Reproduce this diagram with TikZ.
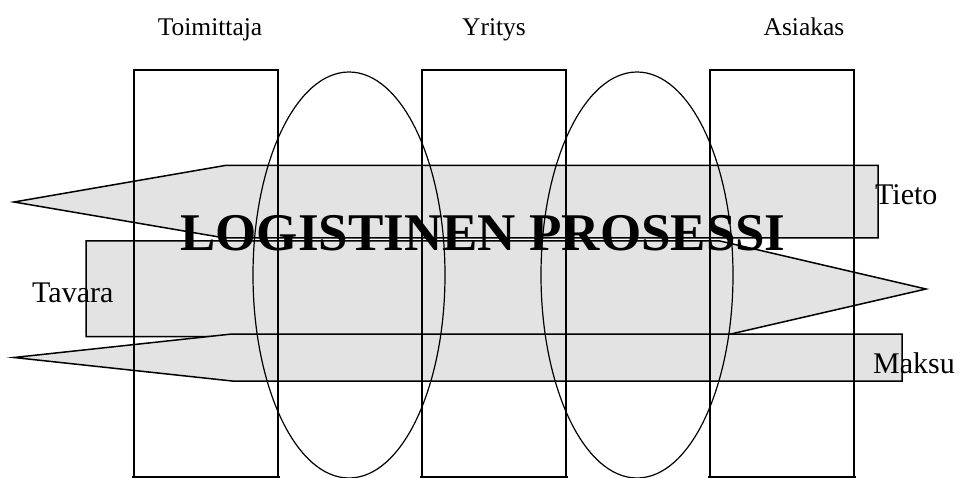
\documentclass[tikz,border=0pt]{standalone}
\usepackage{fontspec}
\setmainfont{Liberation Serif}
\begin{document}
\begin{tikzpicture}[x=1pt,y=-1pt,
  flow/.style={fill=black!11,draw=black,line width=1.5pt,line join=miter},
  lane/.style={draw=black,line width=1.5pt},
  zone/.style={draw=black,line width=1.2pt},
  lbl/.style={inner sep=0pt,font=\fontsize{30}{36}\selectfont},
  head/.style={inner sep=0pt,font=\fontsize{25.5}{30}\selectfont},
  title/.style={inner sep=0pt,font=\fontsize{53}{60}\selectfont\bfseries}]
\useasboundingbox (0,0) rectangle (966,478);
% flows
\draw[flow] (14,202) -- (225,165.5) -- (878,165.5) -- (878,238) -- (225,238) -- cycle;
\draw[flow] (86,241) -- (720,241) -- (926,289) -- (720,336.5) -- (86,336.5) -- cycle;
\draw[flow] (14,357.5) -- (232,334) -- (902,334) -- (902,381) -- (232,381) -- cycle;
% title
\node[title,anchor=base] (t) at (483,251) {LOGISTINEN PROSESSI};
% lanes
\draw[lane] (134,477) -- (134,70) -- (278,70) -- (278,477);
\draw[lane] (422,477) -- (422,70) -- (566,70) -- (566,477);
\draw[lane] (710,477) -- (710,70) -- (854,70) -- (854,477);
\draw[lane] (132,477) -- (280,477);
\draw[lane] (420,477) -- (568,477);
\draw[lane] (708,477) -- (856,477);
% zones
\draw[zone] (349,275) ellipse [x radius=96, y radius=203];
\draw[zone] (637,275) ellipse [x radius=96, y radius=203];
% labels
\node[head,anchor=base] (toim) at (210,36) {Toimittaja};
\node[head,anchor=base] (yri) at (494,36) {Yritys};
\node[head,anchor=base] (asi) at (804,36) {Asiakas};
\node[lbl,anchor=base west] (tieto) at (875,205) {Tieto};
\node[lbl,anchor=base west] (tavara) at (32,302) {Tavara};
\node[lbl,anchor=base west] (maksu) at (873,373) {Maksu};
\end{tikzpicture}
\end{document}
